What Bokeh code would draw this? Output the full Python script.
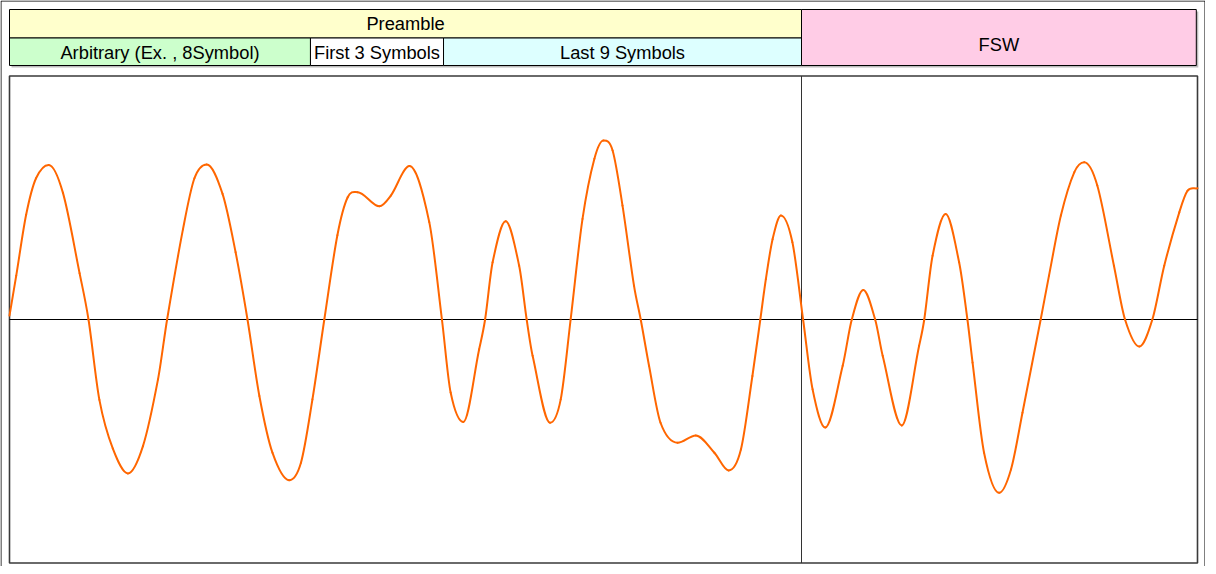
import numpy as np
from bokeh.plotting import figure
from bokeh.models import Range1d, ColumnDataSource
from bokeh.core.properties import value
from bokeh.embed import file_html
from bokeh.resources import INLINE

# ---------------- data ----------------
# waveform: time in symbols, normalised amplitude
t = [0.00, 0.17, 0.42, 0.67, 0.99, 1.35, 1.77, 1.995, 2.27, 2.61, 2.99, 3.37, 3.75, 3.98,
     4.38, 4.67, 4.98, 5.38, 5.71, 6.01, 6.31, 6.64, 7.06, 7.36, 7.65, 7.95, 8.28, 8.54,
     8.79, 9.34, 9.63, 10.10, 10.60, 10.92, 11.14, 11.46, 11.86, 12.01, 12.20, 12.53,
     12.87, 13.06, 13.21, 13.65, 13.92, 14.17, 14.47, 14.77, 15.00, 15.23, 15.48, 15.77,
     15.94, 16.15, 16.44, 16.87, 17.33, 17.80, 18.16, 18.47, 18.76, 18.96, 19.10, 19.27,
     19.48, 19.77, 20.04, 20.28, 20.60, 21.04, 21.27, 21.56, 21.86, 22.05, 22.53, 22.97,
     23.10, 23.31, 23.64, 23.98, 24.19, 24.32, 24.61, 24.99, 25.29, 25.58, 26.04, 26.25,
     26.55, 26.89, 27.14, 27.47, 27.89, 28.17, 28.53, 28.86, 29.16, 29.54, 29.75, 30.00]
amp = [0.016, 0.18, 0.43, 0.58, 0.635, 0.52, 0.19, 0.0, -0.33, -0.53, -0.632, -0.52, -0.246, 0.0,
       0.37, 0.58, 0.637, 0.516, 0.276, 0.0, -0.314, -0.547, -0.66, -0.588, -0.328, 0.0, 0.346, 0.502,
       0.523, 0.465, 0.509, 0.63, 0.40, 0.0, -0.30, -0.421, -0.122, 0.0, 0.235, 0.403,
       0.221, 0.0, -0.149, -0.424, -0.328, 0.0, 0.413, 0.66, 0.735, 0.694, 0.468, 0.139,
       0.0, -0.19, -0.424, -0.506, -0.476, -0.547, -0.62, -0.534, -0.232, 0.0, 0.166, 0.33,
       0.427, 0.317, 0.0, -0.287, -0.444, -0.19, 0.0, 0.121, 0.0, -0.149, -0.435, -0.108,
       0.0, 0.262, 0.433, 0.235, 0.0, -0.177, -0.547, -0.712, -0.616, -0.383, 0.0, 0.18,
       0.427, 0.605, 0.646, 0.55, 0.221, 0.0, -0.111, 0.0, 0.221, 0.44, 0.529, 0.539]

# header bands (in symbols)
top_labels = ["Preamble", "FSW"]
top_start = [0.0, 20.0]
top_end = [20.0, 29.97]
top_colors = ["#FFFFCC", "#FFCCE6"]

sub_labels = ["Arbitrary (Ex. , 8Symbol)", "First 3 Symbols", "Last 9 Symbols"]
sub_start = [0.0, 7.6, 10.96]
sub_end = [7.6, 10.96, 20.0]
sub_colors = ["#CCFFCC", "#FFFFFF", "#DDFFFF"]

total_symbols = 30
preamble_symbols = 20

# ---------------- layout (pixels on page) ----------------
FIG_W, FIG_H = 1205, 566
ORG_X, ORG_Y = 8, 8
PLOT_L, PLOT_R, PLOT_T, PLOT_B = 17, 1205, 84, 571
ZERO_Y = 327.0
SX = (PLOT_R - PLOT_L) / total_symbols
SY = (PLOT_B - PLOT_T) / 2.0


def dx(px):
    return (px - PLOT_L) / SX


def dy(py):
    return (ZERO_Y - py) / SY


HDR_TOP, HDR_MID, HDR_BOT = 17, 45.5, 73
FONT = value("Liberation Sans")
FSIZE = "18.3px"

p = figure(width=FIG_W, height=FIG_H, output_backend="svg", toolbar_location=None,
           x_range=Range1d(dx(ORG_X), dx(ORG_X + FIG_W)),
           y_range=Range1d(dy(ORG_Y + FIG_H), dy(ORG_Y)),
           min_border=0)
p.axis.visible = False
p.grid.visible = False
p.outline_line_color = None
p.background_fill_color = "white"
p.border_fill_color = "white"

# outer frame (left, top, right)
p.segment(x0=[dx(ORG_X + 0.5), dx(ORG_X + 0.5), dx(1212.5)],
          y0=[dy(ORG_Y + FIG_H + 5), dy(ORG_Y + 0.5), dy(ORG_Y + 0.5)],
          x1=[dx(ORG_X + 0.5), dx(1212.5), dx(1212.5)],
          y1=[dy(ORG_Y + 0.5), dy(ORG_Y + 0.5), dy(ORG_Y + FIG_H + 5)],
          line_color="#000000", line_width=1)

# header shadow
sh = 2 / SX
p.quad(left=[top_start[0] + sh], right=[top_end[1] + sh],
       top=[dy(HDR_TOP + 2)], bottom=[dy(HDR_BOT + 2)],
       fill_color="#BBBBBB", line_color=None)

# header boxes
hdr = ColumnDataSource(dict(
    left=top_start, right=top_end,
    top=[dy(HDR_TOP)] * 2, bottom=[dy(HDR_MID), dy(HDR_BOT)],
    color=top_colors))
p.quad(left="left", right="right", top="top", bottom="bottom", source=hdr,
       fill_color="color", line_color="#000000", line_width=1)
sub = ColumnDataSource(dict(
    left=sub_start, right=sub_end,
    top=[dy(HDR_MID)] * 3, bottom=[dy(HDR_BOT)] * 3,
    color=sub_colors))
p.quad(left="left", right="right", top="top", bottom="bottom", source=sub,
       fill_color="color", line_color="#000000", line_width=1)

# header texts
p.text(x=[(a + b) / 2 for a, b in zip(top_start, top_end)],
       y=[dy(30.5), dy(52)], text=top_labels,
       text_font=FONT, text_font_size=FSIZE, text_color="#000000",
       text_align="center", text_baseline="middle")
p.text(x=[(a + b) / 2 for a, b in zip(sub_start, sub_end)],
       y=[dy(60)] * 3, text=sub_labels,
       text_font=FONT, text_font_size=FSIZE, text_color="#000000",
       text_align="center", text_baseline="middle")

# plot area frame
p.quad(left=[0], right=[total_symbols], top=[1], bottom=[-1],
       fill_color="white", line_color="#3A3A3A", line_width=1.6)

# zero line and preamble/FSW divider
p.segment(x0=[0], y0=[0], x1=[total_symbols], y1=[0], line_color="#000000", line_width=1)
p.segment(x0=[preamble_symbols], y0=[-1], x1=[preamble_symbols], y1=[1],
          line_color="#333333", line_width=1)

# smooth waveform (cubic Hermite rendered as Bezier segments)
xs = np.asarray(t, dtype=float)
ys = np.asarray(amp, dtype=float)
n = len(xs)
m = np.zeros(n)
for i in range(n):
    if i == 0:
        m[i] = (ys[1] - ys[0]) / (xs[1] - xs[0])
    elif i == n - 1:
        m[i] = (ys[-1] - ys[-2]) / (xs[-1] - xs[-2])
    elif (ys[i] - ys[i - 1]) * (ys[i + 1] - ys[i]) <= 0:
        m[i] = 0.0
    else:
        m[i] = (ys[i + 1] - ys[i - 1]) / (xs[i + 1] - xs[i - 1])
h = xs[1:] - xs[:-1]
wave = ColumnDataSource(dict(
    x0=xs[:-1], y0=ys[:-1], x1=xs[1:], y1=ys[1:],
    cx0=xs[:-1] + h / 3, cy0=ys[:-1] + m[:-1] * h / 3,
    cx1=xs[1:] - h / 3, cy1=ys[1:] - m[1:] * h / 3))
p.bezier(x0="x0", y0="y0", x1="x1", y1="y1", cx0="cx0", cy0="cy0", cx1="cx1", cy1="cy1",
         source=wave, line_color="#FF6600", line_width=2, line_cap="round")

open("out.html", "w").write(file_html(p, INLINE))
